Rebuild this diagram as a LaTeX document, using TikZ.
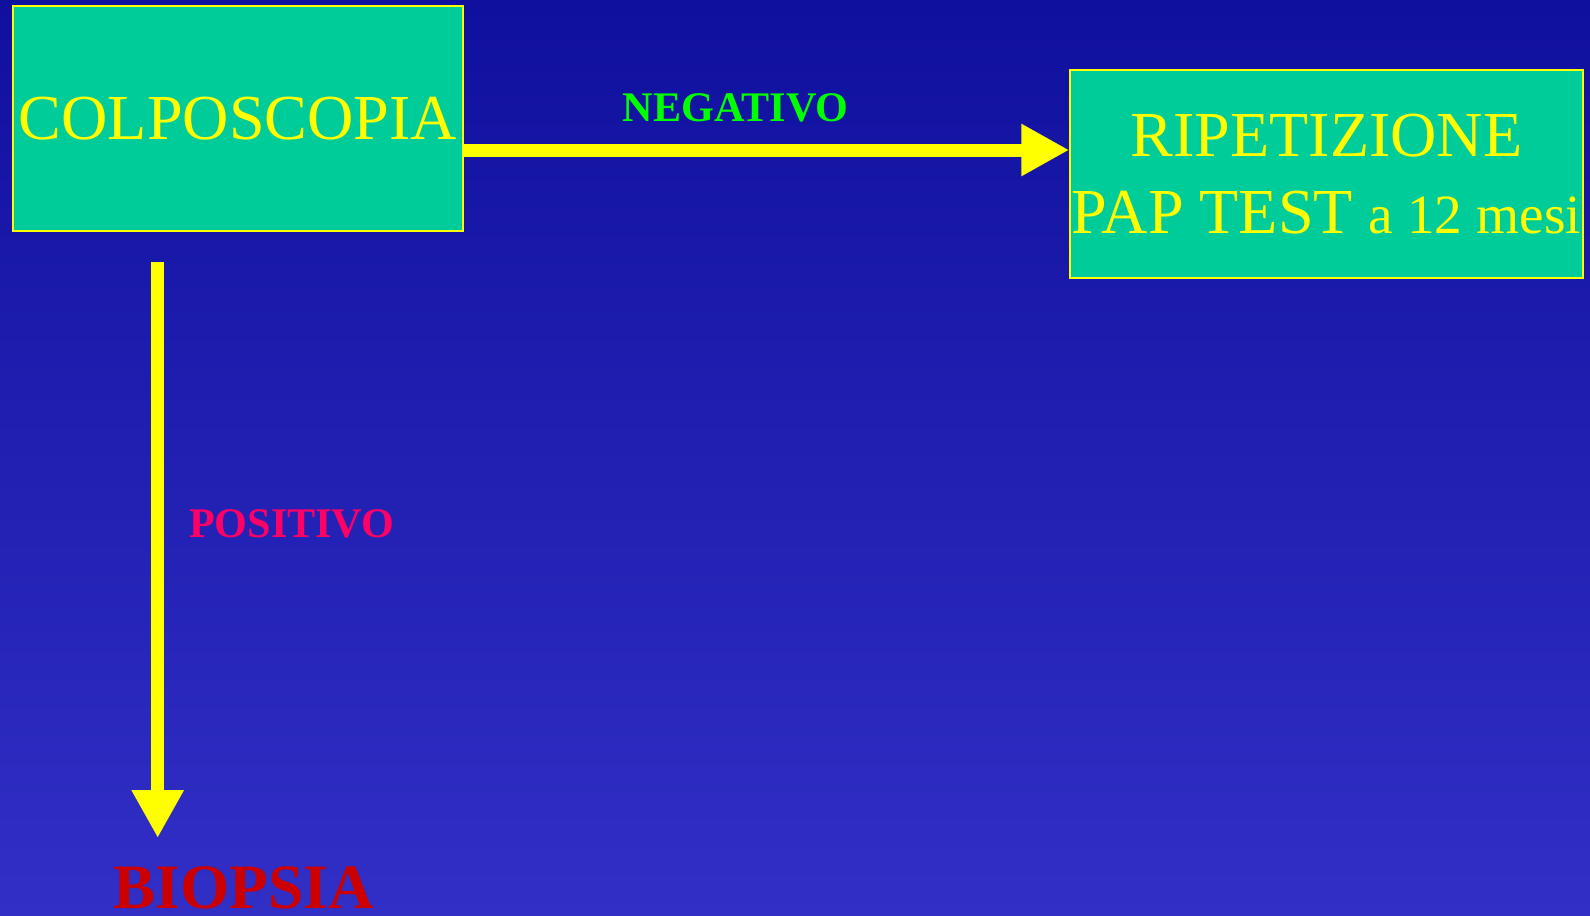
\documentclass[tikz,border=0pt]{standalone}
\usepackage{fontspec}
\setmainfont{Liberation Serif}
\usetikzlibrary{arrows.meta}
\definecolor{bgtop}{RGB}{16,16,158}
\definecolor{bgbot}{RGB}{49,47,198}
\definecolor{boxfill}{RGB}{0,204,153}
\definecolor{flowyellow}{RGB}{255,255,0}
\definecolor{neggreen}{RGB}{0,255,0}
\definecolor{pospink}{RGB}{255,0,102}
\definecolor{biored}{RGB}{204,0,0}

\begin{document}
\begin{tikzpicture}[x=0.02cm,y=-0.02cm,
  stepbox/.style={draw=flowyellow, line width=0.9pt, fill=boxfill, text=flowyellow,
    inner sep=0pt, align=center, font=\fontsize{36.5}{43.6}\selectfont},
  flow/.style={draw=flowyellow, line width=7.4pt,
    -{Triangle[length=27.3pt,width=27.9pt]}},
  outcome/.style={inner sep=0pt, anchor=base, font=\bfseries\fontsize{24}{28.8}\selectfont}]

  % background
  \shade[top color=bgtop, bottom color=bgbot] (0,0) rectangle (1590,916);
  \useasboundingbox (0,0) rectangle (1590,916);

  % boxes
  \node[stepbox, minimum width=9cm, minimum height=4.5cm] (colpo) at (238,118.5) {COLPOSCOPIA};
  \node[stepbox, minimum width=10.26cm, minimum height=4.16cm] (pap) at (1326.5,174)
    {RIPETIZIONE\\PAP TEST {\fontsize{31.5}{37}\selectfont a 12 mesi}};

  % negative branch
  \coordinate (negrow) at (0,150);
  \draw[flow] (colpo.east |- negrow) -- (pap.west |- negrow);
  \node[outcome, text=neggreen] (neg) at (735.7,121.7) {NEGATIVO};

  % positive branch
  \coordinate (posstart) at (157.7,262);
  \coordinate (posend) at (157.7,838);
  \draw[flow] (posstart) -- (posend);
  \node[outcome, text=pospink] (pos) at (291.7,537.3) {POSITIVO};
  \node[inner sep=0pt, anchor=base, text=biored, font=\bfseries\fontsize{36}{43.2}\selectfont]
    (bio) at (243.7,908.5) {BIOPSIA};
\end{tikzpicture}
\end{document}
